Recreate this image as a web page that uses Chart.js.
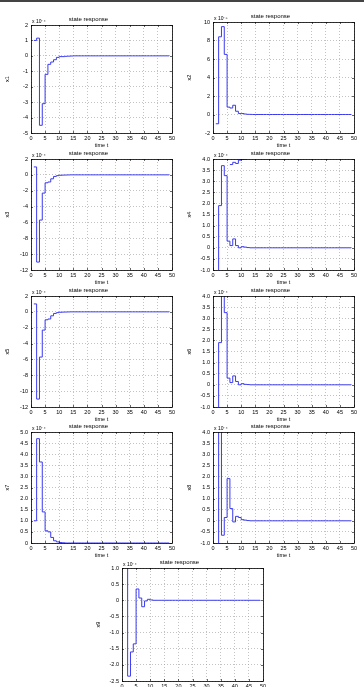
<!DOCTYPE html>
<html><head><meta charset="utf-8">
<script src="https://cdn.jsdelivr.net/npm/chart.js@4/dist/chart.umd.min.js"></script>
<style>
html,body{margin:0;padding:0;background:#fff;}
body{width:364px;height:687px;position:relative;overflow:hidden;}
#topbar{position:absolute;left:0;top:0;width:364px;height:2px;background:#444;}
canvas{position:absolute;}
</style></head>
<body>
<div id="topbar"></div>
<script>
// ---- data ----
const time = [0,1,2,3,4,5,6,7,8,9,10,11,12,13,14,15,16,17,18,19,20,21,22,23,24,25,26,27,28,29,30,31,32,33,34,35,36,37,38,39,40,41,42,43,44,45,46,47,48,49];
const xTicks = [0,5,10,15,20,25,30,35,40,45,50];
const titleText = 'state response';
const xLabel = 'time t';
const yLabels = ['x1','x2','x3','x4','x5','x6','x7','x8','x9'];
const exponents = ['x 10\u207B\u2074','x 10\u207B\u2075','x 10\u207B\u2074','x 10\u207B\u2074','x 10\u207B\u2074','x 10\u207B\u2074','x 10\u207B\u2074','x 10\u207B\u2074','x 10\u207B\u2074'];
const x1 = [null,1,1.15,-4.5,-3.1,-1.2,-0.55,-0.4,-0.25,-0.1,-0.05,-0.05,-0.03,-0.02,-0.01,0,0,0,0,0,0,0,0,0,0,0,0,0,0,0,0,0,0,0,0,0,0,0,0,0,0,0,0,0,0,0,0,0,0,0];
const x2 = [null,-1,8.4,9.5,6.5,0.8,0.7,1.0,0.35,0.1,0.1,0.05,0.02,0.01,0,0,0,0,0,0,0,0,0,0,0,0,0,0,0,0,0,0,0,0,0,0,0,0,0,0,0,0,0,0,0,0,0,0,0,0];
const x3 = [null,1,-11,-5.7,-2.3,-1.0,-0.9,-0.5,-0.2,-0.1,-0.05,-0.03,-0.02,-0.01,0,0,0,0,0,0,0,0,0,0,0,0,0,0,0,0,0,0,0,0,0,0,0,0,0,0,0,0,0,0,0,0,0,0,0,0];
const x4 = [null,-2,1.9,3.7,3.25,0.3,0.1,0.4,0.1,0.0,0.05,0.03,0.01,0,0,0,0,0,0,0,0,0,0,0,0,0,0,0,0,0,0,0,0,0,0,0,0,0,0,0,0,0,0,0,0,0,0,0,0,0];
const x4b = [null,null,null,null,null,null,3.75,3.85,3.8,3.95,4.0,4.0,4.1,null,null,null,null,null,null,null,null,null,null,null,null,null,null,null,null,null,null,null,null,null,null,null,null,null,null,null,null,null,null,null,null,null,null,null,null,null];
const x5 = [null,1,-11,-5.7,-2.3,-1.0,-0.9,-0.5,-0.2,-0.1,-0.05,-0.03,-0.02,-0.01,0,0,0,0,0,0,0,0,0,0,0,0,0,0,0,0,0,0,0,0,0,0,0,0,0,0,0,0,0,0,0,0,0,0,0,0];
const x6 = [null,-2,1.9,5,3.25,0.3,0.1,0.4,0.15,0.0,0.05,0.02,0.01,0,0,0,0,0,0,0,0,0,0,0,0,0,0,0,0,0,0,0,0,0,0,0,0,0,0,0,0,0,0,0,0,0,0,0,0,0];
const x7 = [null,1,4.7,3.65,1.4,0.55,0.5,0.25,0.1,0.05,0.02,0.01,0,0,0,0,0,0,0,0,0,0,0,0,0,0,0,0,0,0,0,0,0,0,0,0,0,0,0,0,0,0,0,0,0,0,0,0,0,0];
const x8 = [null,-2,5,-0.65,0.15,1.9,0.55,-0.05,0.2,0.15,0.05,0.03,0.01,0,0,0,0,0,0,0,0,0,0,0,0,0,0,0,0,0,0,0,0,0,0,0,0,0,0,0,0,0,0,0,0,0,0,0,0,0];
const x9 = [null,1.5,-2.35,-1.6,-1.35,0.35,0.07,-0.2,-0.02,0.03,0.01,0,0,0,0,0,0,0,0,0,0,0,0,0,0,0,0,0,0,0,0,0,0,0,0,0,0,0,0,0,0,0,0,0,0,0,0,0,0,0];
const seriesSets = [[x1],[x2],[x3],[x4,x4b],[x5],[x6],[x7],[x8],[x9]];
const yMin = [-5,-2,-12,-1,-12,-1,0,-1,-2.5];
const yMax = [2,10,2,4,2,4,5,4,1];
const yStep = [1,2,2,0.5,2,0.5,0.5,0.5,0.5];

// ---- layout (axes boxes in px) ----
const boxes = [
  {l:31,t:25,w:141,h:108},{l:213,t:22,w:141,h:111},
  {l:31,t:159,w:141,h:111},{l:213,t:159,w:141,h:111},
  {l:31,t:296,w:141,h:111},{l:213,t:296,w:141,h:111},
  {l:31,t:432,w:141,h:111},{l:213,t:432,w:141,h:111},
  {l:122,t:568,w:141,h:113}
];
const L = 26, R = 26, T = 12, B = 16;
const FONT = 'Liberation Sans, Arial, sans-serif';

const boxPlugin = {
  id:'boxAndExp',
  afterDatasetsDraw(chart, args, opts){
    const a = chart.chartArea, ctx = chart.ctx;
    ctx.save();
    ctx.strokeStyle = '#000'; ctx.lineWidth = 0.8;
    ctx.strokeRect(Math.round(a.left)+0.5, Math.round(a.top)+0.5, Math.round(a.right-a.left), Math.round(a.bottom-a.top));
    ctx.lineWidth = 0.6;
    const xs = chart.scales.x, ys = chart.scales.y;
    xs.ticks.forEach(tk=>{const px=Math.round(xs.getPixelForValue(tk.value))+0.5;
      ctx.beginPath();ctx.moveTo(px,a.bottom);ctx.lineTo(px,a.bottom-2);ctx.moveTo(px,a.top);ctx.lineTo(px,a.top+2);ctx.stroke();});
    ys.ticks.forEach(tk=>{const py=Math.round(ys.getPixelForValue(tk.value))+0.5;
      ctx.beginPath();ctx.moveTo(a.left,py);ctx.lineTo(a.left+2,py);ctx.moveTo(a.right,py);ctx.lineTo(a.right-2,py);ctx.stroke();});
    ctx.fillStyle = '#000';
    ctx.font = '5px ' + FONT;
    ctx.textBaseline = 'bottom';
    ctx.fillText(opts.text, a.left + 1, a.top - 1);
    ctx.restore();
  }
};

boxes.forEach((b, i) => {
  const c = document.createElement('canvas');
  const W = b.w + L + R, H = b.h + T + B;
  c.width = W; c.height = H;
  c.style.left = (b.l - L) + 'px';
  c.style.top = (b.t - T) + 'px';
  c.style.width = W + 'px'; c.style.height = H + 'px';
  document.body.appendChild(c);
  new Chart(c, {
    type:'line',
    data:{
      labels: time,
      datasets: seriesSets[i].map(arr => ({
        data: arr,
        borderColor:'#3a3af0',
        borderWidth:1,
        pointRadius:0,
        stepped:true,
        fill:false,
        spanGaps:false
      }))
    },
    options:{
      responsive:false,
      animation:false,
      devicePixelRatio:1,
      layout:{padding:{left:0,right:R,top:0,bottom:0}},
      plugins:{
        legend:{display:false},
        tooltip:{enabled:false},
        title:{display:true,text:titleText,color:'#000',font:{size:6,family:FONT,weight:'normal',lineHeight:1},padding:{top:3,bottom:3}},
        boxAndExp:{text:exponents[i]}
      },
      scales:{
        x:{
          type:'linear',min:0,max:50,
          afterBuildTicks: s => { s.ticks = xTicks.map(v=>({value:v})); },
          afterFit: s => { s.height = B; },
          grid:{color:'#9a9a9a',lineWidth:0.6,drawTicks:false},
          border:{display:false,dash:[1,2]},
          ticks:{color:'#000',font:{size:5.5,family:FONT},padding:2,maxRotation:0,autoSkip:false},
          title:{display:true,text:xLabel,color:'#000',font:{size:5.5,family:FONT,lineHeight:1},padding:{top:0,bottom:1}}
        },
        y:{
          type:'linear',min:yMin[i],max:yMax[i],
          afterFit: s => { s.width = L; },
          grid:{color:'#9a9a9a',lineWidth:0.6,drawTicks:false},
          border:{display:false,dash:[1,2]},
          ticks:{color:'#000',font:{size:5.5,family:FONT},padding:3,stepSize:yStep[i],autoSkip:false},
          title:{display:true,text:yLabels[i],color:'#000',font:{size:5.5,family:FONT,lineHeight:1},padding:{top:0,bottom:0}}
        }
      }
    },
    plugins:[boxPlugin]
  });
});
</script>
</body></html>
